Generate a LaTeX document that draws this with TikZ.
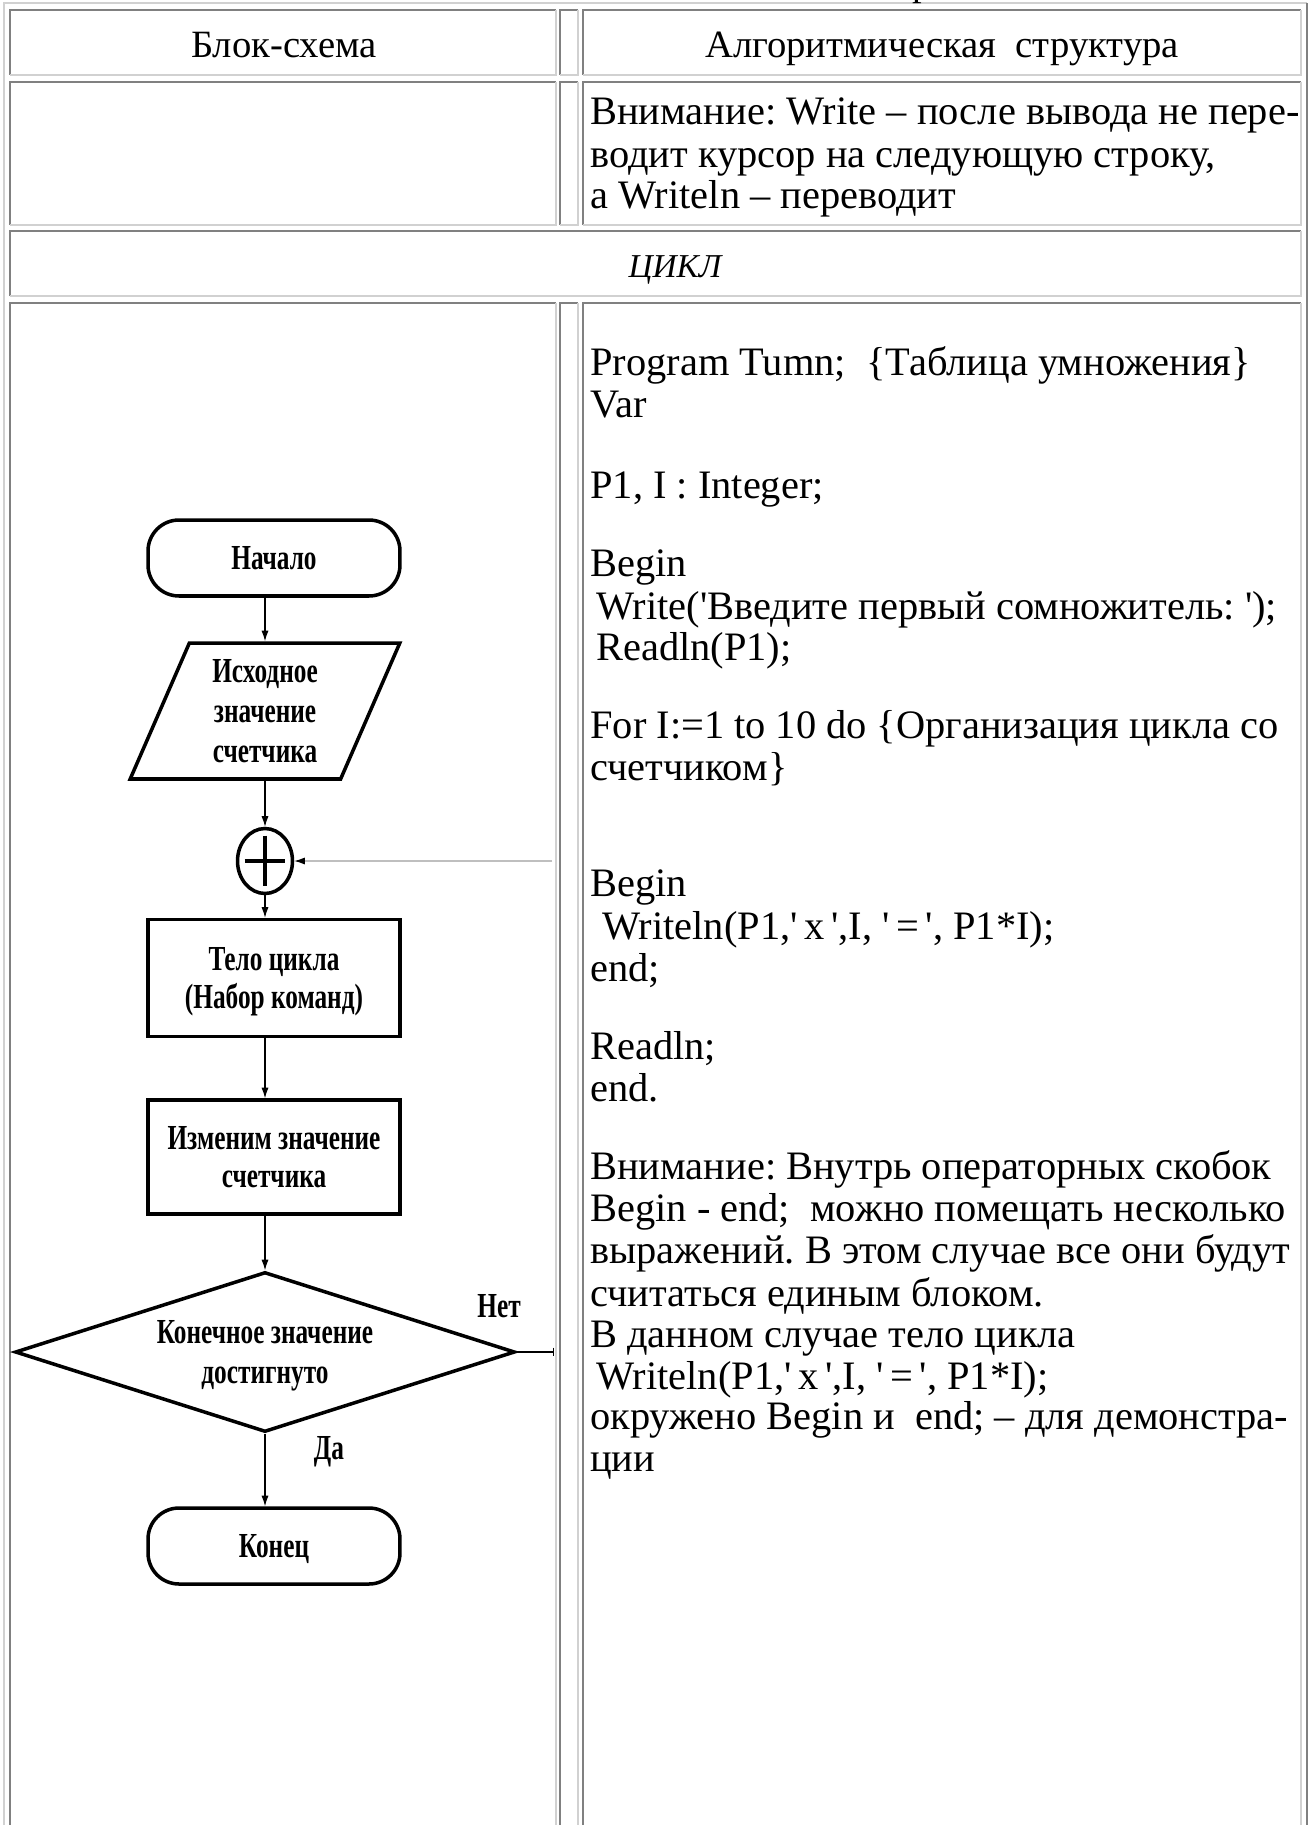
\documentclass[tikz,border=0pt]{standalone}
\usepackage{fontspec}
\setmainfont{Liberation Serif}
\newfontfamily\flowfont{Liberation Serif}[FakeStretch=0.72]
\usetikzlibrary{shapes.geometric,arrows.meta}

\newcommand{\sq}{\textquotesingle}

\begin{document}
\frenchspacing
\begin{tikzpicture}[x=0.02cm, y=-0.02cm,
    lightedge/.style={draw=black!18, line width=1.1pt},
    darkedge/.style={draw=black!50, line width=1.1pt},
    head/.style={anchor=base, inner sep=0pt, font=\fontsize{22}{26}\selectfont},
    codeline/.style={anchor=base west, inner sep=0pt, font=\fontsize{23}{27}\selectfont},
    chart/.style={draw, line width=2pt, align=center, inner sep=0pt, text depth=-0.1cm,
        font=\flowfont\bfseries\fontsize{20}{21.5}\selectfont},
    terminal/.style={chart, text depth=0pt, rounded corners=0.62cm, minimum width=5.04cm, minimum height=1.52cm},
    block/.style={chart, minimum width=5.04cm},
    io/.style={chart, trapezium, trapezium left angle=68, trapezium right angle=112,
        trapezium stretches=true, minimum width=5.4cm, minimum height=2.72cm,
        font=\flowfont\bfseries\fontsize{20}{22.5}\selectfont},
    decision/.style={chart, diamond, aspect=3, minimum width=10cm, minimum height=3.2cm,
        font=\flowfont\bfseries\fontsize{20}{22.5}\selectfont},
    flowlabel/.style={inner sep=0pt, font=\flowfont\bfseries\fontsize{20}{22}\selectfont},
    flow/.style={-{Latex[length=6pt,width=4pt]}, line width=0.6pt},
]
    % Page
    \useasboundingbox[fill=white] (0,0) rectangle (1308,1825);

    % Cell frame: dark top and left, light bottom and right
    \def\htmlcell(#1,#2)(#3,#4){%
        \draw[darkedge] (#1,#4) -- (#1,#2) -- (#3,#2);
        \draw[lightedge] (#3,#2) -- (#3,#4) -- (#1,#4);}

    % Outer table frame
    \draw[lightedge] (4,1840) -- (4,3) -- (1307,3);
    \draw[darkedge] (1307,3) -- (1307,1840);

    % Header row
    \htmlcell(10,10)(556,75)
    \htmlcell(560,10)(578,75)
    \htmlcell(583,10)(1301,75)
    % Note row
    \htmlcell(10,82)(556,225)
    \htmlcell(560,82)(578,225)
    \htmlcell(583,82)(1301,225)
    % Section row
    \htmlcell(10,231)(1301,296)
    % Loop row
    \htmlcell(10,303)(556,1840)
    \htmlcell(560,303)(578,1840)
    \htmlcell(583,303)(1301,1840)

    % Caption cut by the page edge
    \node[head] (cap) at (922,-4) {р};

    % Headers
    \node[head] (hleft) at (284,58) {Блок-схема};
    \node[head] (hright) at (942,58) {Алгоритмическая\ \ структура};

    % Note
    \node[codeline] (n1) at (590,125) {Внимание: Write -- после вывода не пере-};
    \node[codeline] (n2) at (590,167) {водит курсор на следующую строку,};
    \node[codeline] (n3) at (590,208) {а Writeln -- переводит};

    % Section title
    \node[head, font=\itshape\fontsize{19}{24}\selectfont] (loop) at (675,277) {ЦИКЛ};

    % Program text
    \foreach \y/\dx/\t [count=\i] in {
        363/0/{Program Tumn;\ \ \{Таблица умножения\}},
        405/0/{Var},
        486/0/{P1, I : Integer;},
        564/0/{Begin},
        607/6/{Write(\sq Введите первый сомножитель: \sq);},
        648/6/{Readln(P1);},
        726/0/{For I:=1 to 10 do \{Организация цикла со},
        768/0/{счетчиком\}},
        884/0/{Begin},
        927/12/{Writeln(P1,\sq\,x\,\sq,I, \sq\,=\,\sq, P1*I);},
        969/0/{end;},
        1047/0/{Readln;},
        1089/0/{end.},
        1167/0/{Внимание: Внутрь операторных скобок},
        1209/0/{Begin - end;\ \ можно помещать несколько},
        1251/0/{выражений. В этом случае все они будут},
        1294/0/{считаться единым блоком.},
        1335/0/{В данном случае тело цикла},
        1377/6/{Writeln(P1,\sq\,x\,\sq,I, \sq\,=\,\sq, P1*I);},
        1417/0/{окружено Begin и\ \ end; -- для демонстра-},
        1459/0/{ции}}
        \node[codeline] (p\i) at (590+\dx,\y+12) {\t};

    % Flowchart, arrows run down one axis
    \coordinate (axis) at (265,0);
    \node[terminal] (start) at (274,558) {Начало};
    \node[io] (init) at (265,711) {Исходное\\значение\\счетчика};
    \node[draw, ellipse, line width=2pt, minimum width=1.1cm, minimum height=1.3cm,
        inner sep=0pt] (join) at (265,861) {};
    \draw[line width=1.8pt] ([xshift=5pt]join.west) -- ([xshift=-5pt]join.east)
        ([yshift=-5pt]join.north) -- ([yshift=5pt]join.south);
    \node[block, minimum height=2.34cm] (body) at (274,978) {Тело цикла\\(Набор команд)};
    \node[block, minimum height=2.28cm] (change) at (274,1157) {Изменим значение\\счетчика};
    \node[decision] (check) at (265,1352) {Конечное значение\\достигнуто};
    \node[terminal] (stop) at (274,1546) {Конец};

    \node[flowlabel] (no) at (499,1306) {Нет};
    \node[flowlabel] (yes) at (329,1452) {Да};

    \draw[flow] (start.south -| axis) -- (init.north -| axis);
    \draw[flow] (init.south -| axis) -- (join);
    \draw[flow] (join) -- (body.north -| axis);
    \draw[flow] (body.south -| axis) -- (change.north -| axis);
    \draw[flow] (change.south -| axis) -- (check);
    \draw[flow] (check) -- (stop.north -| axis);

    % Loop exits, cut at the column edge
    \coordinate (noend) at (554,1352);
    \draw[line width=0.6pt, -{Bar[width=5pt]}] (check.east) -- (noend);
    \coordinate (back) at (552,861);
    \draw[black!25, line width=1.2pt] (back) -- ([xshift=6pt]join.east);
    \draw[flow] ([xshift=6pt]join.east) -- (join.east);
\end{tikzpicture}
\end{document}
